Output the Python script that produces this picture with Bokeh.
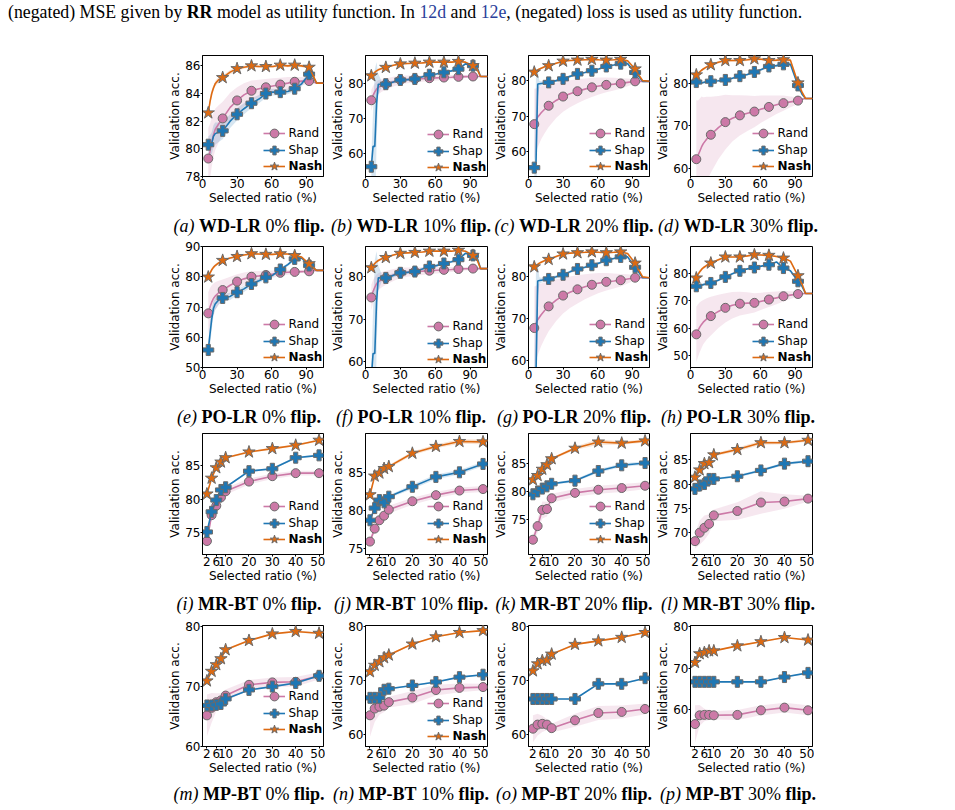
from bokeh.embed import file_html
from bokeh.resources import INLINE
from bokeh.plotting import figure
from bokeh.layouts import column, row
from bokeh.models import Range1d, FixedTicker, Legend, LegendItem, Div, Spacer

# ---------------------------------------------------------------- data
# Logistic-regression panels: dense curve sampled at these ratios (%)
X_LR = [5, 6.5, 8, 9.5, 11, 14, 17.5, 24, 30, 36, 42.5, 49, 55, 61, 67.5, 74, 80, 86, 92.5, 96, 99, 105]
MARK_LR = [5, 17.5, 30, 42.5, 55, 67.5, 80, 92.5]
X_LR_TICKS = [0, 30, 60, 90]

# Boosted-tree panels
X_BT = [2, 4, 6, 8, 10, 20, 30, 40, 50]
X_BT_TICKS = [2, 6, 10, 20, 30, 40, 50]

# WD-LR 0% flip
WD0_RAND = [79.3, 79.8, 80.5, 81.0, 81.4, 81.8, 82.2, 83.0, 83.5, 83.9, 84.2, 84.35, 84.45, 84.55, 84.65, 84.75, 84.85, 84.9, 84.9, 84.85, 84.75, 84.75]
WD0_RAND_SD = [2.2, 2.0, 1.8, 1.6, 1.5, 1.35, 1.2, 1.05, 0.95, 0.85, 0.75, 0.65, 0.6, 0.55, 0.5, 0.45, 0.35, 0.3, 0.2, 0.1, 0.0, 0.0]
WD0_SHAP = [80.3, 80.3, 80.4, 80.9, 81.1, 81.2, 81.3, 82.0, 82.5, 82.9, 83.3, 83.6, 84.0, 84.1, 84.1, 84.15, 84.35, 84.7, 85.4, 85.2, 84.75, 84.75]
WD0_SHAP_SD = [0.6, 0.7, 0.8, 0.8, 0.8, 0.7, 0.6, 0.5, 0.45, 0.4, 0.35, 0.3, 0.3, 0.25, 0.2, 0.2, 0.2, 0.2, 0.15, 0.1, 0.0, 0.0]
WD0_NASH = [82.6, 83.4, 84.0, 84.4, 84.7, 85.0, 85.15, 85.55, 85.8, 85.9, 86.0, 85.95, 85.95, 85.95, 86.05, 86.0, 86.05, 86.0, 85.9, 85.3, 84.75, 84.75]
WD0_NASH_SD = [0.3, 0.3, 0.25, 0.2, 0.2, 0.2, 0.15, 0.15, 0.15, 0.1, 0.1, 0.1, 0.1, 0.1, 0.1, 0.1, 0.1, 0.1, 0.1, 0.1, 0.0, 0.0]

# WD-LR 10% flip
WD10_RAND = [75.1, 76.5, 77.5, 78.3, 78.8, 79.3, 79.7, 80.4, 80.9, 81.05, 81.2, 81.3, 81.4, 81.5, 81.6, 81.7, 81.8, 81.85, 81.9, 81.9, 81.9, 81.9]
WD10_RAND_SD = [3.0, 2.7, 2.4, 2.2, 2.0, 1.8, 1.6, 1.4, 1.2, 1.1, 1.0, 0.9, 0.8, 0.75, 0.7, 0.6, 0.5, 0.4, 0.3, 0.15, 0.0, 0.0]
WD10_SHAP = [56.1, 61.9, 61.9, 74.0, 79.7, 79.7, 79.7, 80.3, 80.9, 81.0, 81.2, 81.8, 82.4, 82.6, 83.1, 83.5, 84.0, 85.5, 85.0, 84.6, 81.9, 81.9]
WD10_SHAP_SD = [3.0, 10.0, 22.0, 12.0, 3.0, 0.8, 0.6, 0.5, 0.4, 0.4, 0.35, 0.35, 0.3, 0.3, 0.3, 0.3, 0.3, 0.3, 0.3, 0.2, 0.0, 0.0]
WD10_NASH = [82.1, 82.6, 83.1, 83.5, 83.8, 84.2, 84.5, 85.1, 85.5, 85.6, 85.7, 85.8, 86.0, 86.0, 86.0, 86.0, 86.2, 86.0, 85.0, 84.0, 81.9, 81.9]
WD10_NASH_SD = [0.4, 0.4, 0.35, 0.3, 0.3, 0.3, 0.3, 0.25, 0.25, 0.2, 0.2, 0.2, 0.2, 0.2, 0.2, 0.2, 0.2, 0.2, 0.2, 0.15, 0.0, 0.0]

# WD-LR 20% flip
WD20_RAND = [67.7, 68.8, 69.7, 70.3, 70.9, 71.9, 72.9, 74.4, 75.5, 76.3, 77.0, 77.6, 78.1, 78.5, 78.8, 79.0, 79.2, 79.5, 79.8, 79.8, 79.8, 79.8]
WD20_RAND_SD = [10.0, 9.0, 8.5, 8.0, 7.5, 6.8, 6.0, 5.0, 4.3, 3.8, 3.4, 3.0, 2.7, 2.4, 2.1, 1.8, 1.5, 1.1, 0.6, 0.3, 0.0, 0.0]
WD20_SHAP = [55.4, 56.5, 79.0, 79.1, 79.2, 79.3, 79.5, 80.0, 80.5, 81.2, 81.9, 82.3, 82.8, 83.3, 84.0, 84.4, 84.8, 84.8, 82.3, 81.0, 79.8, 79.8]
WD20_SHAP_SD = [2.0, 25.0, 4.0, 0.8, 0.6, 0.5, 0.4, 0.4, 0.4, 0.35, 0.35, 0.3, 0.3, 0.3, 0.3, 0.3, 0.3, 0.3, 0.3, 0.2, 0.0, 0.0]
WD20_NASH = [82.4, 82.7, 83.0, 83.3, 83.5, 83.9, 84.2, 84.9, 85.5, 85.7, 85.8, 85.9, 86.0, 85.9, 85.8, 85.9, 86.0, 85.6, 83.3, 81.5, 80.0, 79.8]
WD20_NASH_SD = [0.4, 0.4, 0.35, 0.3, 0.3, 0.3, 0.3, 0.25, 0.25, 0.2, 0.2, 0.2, 0.2, 0.2, 0.2, 0.2, 0.2, 0.2, 0.2, 0.15, 0.0, 0.0]

# WD-LR 30% flip
WD30_RAND = [62.1, 63.0, 64.0, 65.0, 65.8, 66.9, 67.9, 69.6, 70.9, 71.8, 72.5, 73.0, 73.4, 74.0, 74.5, 75.0, 75.4, 75.7, 76.0, 76.3, 76.5, 76.5]
WD30_RAND_SD = [14.0, 13.0, 12.5, 12.0, 11.0, 10.0, 9.0, 7.5, 6.5, 5.5, 4.8, 4.2, 3.7, 3.2, 2.7, 2.2, 1.8, 1.3, 0.8, 0.4, 0.0, 0.0]
WD30_SHAP = [80.4, 80.0, 80.1, 80.2, 80.3, 80.5, 80.6, 80.7, 80.9, 81.3, 81.8, 82.2, 82.8, 83.4, 84.1, 84.3, 84.6, 84.6, 79.6, 77.5, 76.5, 76.5]
WD30_SHAP_SD = [0.4, 0.4, 0.35, 0.3, 0.3, 0.3, 0.3, 0.3, 0.3, 0.3, 0.3, 0.3, 0.3, 0.3, 0.3, 0.3, 0.3, 0.3, 0.4, 0.3, 0.0, 0.0]
WD30_NASH = [82.1, 82.4, 82.8, 83.2, 83.5, 84.0, 84.5, 85.1, 85.5, 85.5, 85.5, 85.7, 85.9, 85.8, 85.5, 85.6, 85.7, 85.6, 80.2, 78.0, 76.5, 76.5]
WD30_NASH_SD = [0.4, 0.4, 0.35, 0.3, 0.3, 0.3, 0.3, 0.3, 0.3, 0.3, 0.3, 0.3, 0.3, 0.3, 0.3, 0.3, 0.3, 0.3, 0.4, 0.3, 0.0, 0.0]

# PO-LR 0% flip
PO0_RAND = [67.9, 70.0, 71.6, 72.8, 73.6, 74.7, 75.6, 77.2, 78.4, 79.3, 80.0, 80.3, 80.6, 80.9, 81.3, 81.5, 81.6, 81.7, 81.8, 82.0, 82.1, 82.1]
PO0_RAND_SD = [7.0, 6.3, 5.6, 5.0, 4.6, 4.0, 3.5, 2.8, 2.4, 2.1, 1.8, 1.6, 1.4, 1.2, 1.0, 0.8, 0.6, 0.4, 0.3, 0.15, 0.0, 0.0]
PO0_SHAP = [55.8, 61.0, 66.0, 69.5, 71.0, 72.3, 73.0, 73.5, 74.9, 76.0, 77.6, 78.7, 79.8, 80.5, 82.4, 84.0, 85.9, 86.2, 83.7, 83.0, 82.1, 82.1]
PO0_SHAP_SD = [3.0, 4.0, 3.5, 2.5, 2.0, 1.5, 1.2, 1.2, 1.0, 1.0, 0.9, 0.8, 0.7, 0.6, 0.6, 0.5, 0.5, 0.5, 0.4, 0.3, 0.0, 0.0]
PO0_NASH = [79.9, 81.2, 82.3, 83.1, 83.7, 84.6, 85.4, 86.2, 86.7, 87.2, 87.6, 87.5, 87.4, 87.4, 87.6, 87.5, 87.0, 86.5, 84.3, 83.0, 82.1, 82.1]
PO0_NASH_SD = [0.8, 0.7, 0.6, 0.5, 0.5, 0.4, 0.4, 0.3, 0.3, 0.3, 0.3, 0.3, 0.3, 0.3, 0.3, 0.3, 0.3, 0.3, 0.3, 0.2, 0.0, 0.0]

# PO-LR 10% and 20% flip repeat the WD-LR curves
PO10_RAND, PO10_RAND_SD = WD10_RAND, WD10_RAND_SD
PO10_SHAP, PO10_SHAP_SD = WD10_SHAP, WD10_SHAP_SD
PO10_NASH, PO10_NASH_SD = WD10_NASH, WD10_NASH_SD
PO20_RAND, PO20_RAND_SD = WD20_RAND, WD20_RAND_SD
PO20_SHAP, PO20_SHAP_SD = WD20_SHAP, WD20_SHAP_SD
PO20_NASH, PO20_NASH_SD = WD20_NASH, WD20_NASH_SD

# PO-LR 30% flip
PO30_RAND = [57.8, 59.2, 60.4, 61.4, 62.2, 63.4, 64.4, 66.1, 67.4, 68.3, 68.9, 69.1, 69.2, 69.8, 70.4, 71.0, 71.6, 72.0, 72.4, 72.5, 72.6, 72.6]
PO30_RAND_SD = [10.0, 9.5, 9.0, 8.5, 8.0, 7.5, 7.0, 6.0, 5.3, 4.8, 4.3, 3.9, 3.5, 3.1, 2.7, 2.3, 1.9, 1.4, 0.9, 0.5, 0.0, 0.0]
PO30_SHAP = [75.2, 75.3, 75.5, 75.6, 75.8, 76.1, 76.4, 77.4, 78.6, 79.7, 80.8, 81.5, 82.0, 82.5, 83.0, 84.0, 81.8, 80.8, 77.0, 75.2, 72.6, 72.6]
PO30_SHAP_SD = [0.6, 0.6, 0.5, 0.5, 0.5, 0.4, 0.4, 0.4, 0.3, 0.3, 0.3, 0.3, 0.3, 0.3, 0.3, 0.3, 0.3, 0.3, 0.3, 0.2, 0.0, 0.0]
PO30_NASH = [78.2, 79.5, 80.5, 81.3, 81.9, 82.8, 83.6, 84.8, 85.8, 85.8, 85.8, 86.2, 86.6, 86.5, 86.4, 86.0, 85.4, 84.3, 79.0, 76.0, 72.6, 72.6]
PO30_NASH_SD = [0.9, 0.8, 0.7, 0.6, 0.5, 0.5, 0.4, 0.4, 0.4, 0.3, 0.3, 0.3, 0.3, 0.3, 0.3, 0.3, 0.3, 0.3, 0.3, 0.2, 0.0, 0.0]

# MR-BT
MR0_RAND = [73.75, 77.6, 79.0, 80.25, 81.15, 82.6, 83.4, 83.85, 83.85]
MR0_RAND_SD = [0.4, 0.5, 0.5, 0.5, 0.5, 0.45, 0.4, 0.35, 0.35]
MR0_SHAP = [75.1, 78.1, 79.85, 81.35, 81.75, 84.15, 84.5, 86.15, 86.5]
MR0_SHAP_SD = [0.15, 0.15, 0.15, 0.15, 0.15, 0.15, 0.15, 0.15, 0.15]
MR0_NASH = [80.75, 83.1, 84.65, 85.5, 86.15, 87.0, 87.5, 88.0, 88.75]
MR0_NASH_SD = [0.15, 0.15, 0.15, 0.15, 0.15, 0.15, 0.15, 0.15, 0.15]

MR10_RAND = [75.9, 77.6, 78.7, 79.3, 80.1, 81.2, 82.0, 82.6, 82.8]
MR10_RAND_SD = [0.4, 0.5, 0.5, 0.5, 0.5, 0.45, 0.4, 0.4, 0.4]
MR10_SHAP = [78.7, 80.3, 81.35, 81.05, 81.8, 83.1, 84.4, 85.0, 86.1]
MR10_SHAP_SD = [0.2, 0.2, 0.2, 0.2, 0.2, 0.3, 0.3, 0.3, 0.3]
MR10_NASH = [82.05, 84.5, 84.9, 85.5, 85.75, 87.5, 88.4, 89.05, 89.0]
MR10_NASH_SD = [0.2, 0.2, 0.2, 0.2, 0.2, 0.25, 0.25, 0.3, 0.3]

MR20_RAND = [71.5, 73.9, 76.75, 76.9, 78.8, 79.75, 80.3, 80.6, 81.0]
MR20_RAND_SD = [0.8, 1.2, 1.5, 1.3, 0.8, 0.7, 0.7, 0.7, 0.6]
MR20_SHAP = [79.5, 80.0, 80.5, 80.9, 81.35, 81.9, 83.6, 84.6, 85.0]
MR20_SHAP_SD = [0.2, 0.2, 0.2, 0.2, 0.2, 0.25, 0.3, 0.3, 0.3]
MR20_NASH = [82.05, 82.8, 83.9, 84.7, 85.75, 87.6, 88.7, 88.5, 88.9]
MR20_NASH_SD = [0.2, 0.2, 0.2, 0.2, 0.2, 0.3, 0.5, 0.3, 0.3]

MR30_RAND = [68.25, 70.0, 71.0, 71.8, 73.55, 74.45, 76.2, 76.4, 77.0]
MR30_RAND_SD = [1.5, 2.5, 2.5, 2.0, 1.2, 1.8, 2.3, 1.5, 0.6]
MR30_SHAP = [79.0, 79.7, 80.0, 81.05, 81.05, 81.6, 82.8, 84.2, 84.7]
MR30_SHAP_SD = [0.2, 0.2, 0.2, 0.2, 0.2, 0.25, 0.3, 0.3, 0.3]
MR30_NASH = [81.4, 82.9, 84.2, 84.4, 86.0, 87.1, 88.5, 88.5, 89.0]
MR30_NASH_SD = [0.3, 0.3, 0.3, 0.3, 0.3, 0.4, 0.4, 0.3, 0.3]

# MP-BT
MP0_RAND = [65.2, 66.45, 67.4, 67.7, 68.5, 70.3, 70.7, 70.8, 71.8]
MP0_RAND_SD = [3.5, 2.5, 1.5, 1.2, 1.0, 0.8, 0.8, 0.8, 0.6]
MP0_SHAP = [66.85, 66.85, 66.95, 67.1, 67.95, 69.45, 70.0, 70.6, 71.8]
MP0_SHAP_SD = [0.15, 0.15, 0.15, 0.15, 0.15, 0.15, 0.15, 0.15, 0.15]
MP0_NASH = [70.95, 72.55, 73.65, 74.65, 76.15, 77.7, 78.8, 79.2, 78.9]
MP0_NASH_SD = [0.15, 0.15, 0.15, 0.15, 0.15, 0.15, 0.15, 0.15, 0.15]

MP10_RAND = [63.5, 64.75, 65.1, 65.3, 65.95, 66.8, 68.2, 68.6, 68.75]
MP10_RAND_SD = [4.0, 2.5, 1.5, 1.2, 1.0, 1.2, 1.0, 0.8, 0.6]
MP10_SHAP = [66.75, 66.75, 66.75, 68.25, 68.45, 69.05, 69.7, 70.6, 71.05]
MP10_SHAP_SD = [0.15, 0.15, 0.15, 0.15, 0.15, 0.15, 0.15, 0.15, 0.15]
MP10_NASH = [71.6, 72.8, 73.45, 74.2, 74.7, 76.75, 78.1, 78.9, 79.25]
MP10_NASH_SD = [0.15, 0.15, 0.15, 0.15, 0.15, 0.15, 0.15, 0.15, 0.15]

MP20_RAND = [61.1, 61.85, 62.0, 61.85, 61.2, 62.65, 64.0, 64.2, 64.75]
MP20_RAND_SD = [2.5, 2.0, 1.5, 1.0, 0.8, 1.2, 1.3, 1.2, 1.0]
MP20_SHAP = [66.6, 66.6, 66.6, 66.6, 66.6, 66.6, 69.4, 69.4, 70.45]
MP20_SHAP_SD = [0.15, 0.15, 0.15, 0.15, 0.15, 0.15, 0.15, 0.15, 0.15]
MP20_NASH = [71.8, 73.1, 73.7, 73.8, 74.9, 76.7, 77.35, 78.0, 78.9]
MP20_NASH_SD = [0.15, 0.15, 0.15, 0.15, 0.15, 0.15, 0.15, 0.15, 0.15]

MP30_RAND = [56.6, 58.7, 58.8, 58.8, 58.7, 58.8, 59.9, 60.55, 59.9]
MP30_RAND_SD = [4.5, 2.5, 1.5, 1.2, 1.0, 1.2, 1.2, 1.2, 1.2]
MP30_SHAP = [66.75, 66.75, 66.75, 66.75, 66.75, 66.75, 66.75, 67.9, 68.9]
MP30_SHAP_SD = [0.15, 0.15, 0.15, 0.15, 0.15, 0.15, 0.15, 0.15, 0.15]
MP30_NASH = [71.4, 73.5, 73.8, 74.2, 74.2, 75.4, 76.4, 77.4, 76.8]
MP30_NASH_SD = [0.15, 0.15, 0.15, 0.15, 0.15, 0.15, 0.15, 0.15, 0.15]

# value ranges and y ticks of each panel, (a) .. (p)
Y_RANGES = [(78, 86.75), (53.3, 87.9), (52.9, 87.1), (58, 86.7),
            (50, 90), (58.6, 87.1), (58.2, 87.3), (45.8, 89.6),
            (71.75, 89.75), (74.2, 90.1), (68.9, 90.2), (65.5, 90.4),
            (60, 80.2), (57.7, 80.2), (57.8, 80.2), (51.2, 80.3)]
Y_TICKS = [[78, 80, 82, 84, 86], [60, 70, 80], [60, 70, 80], [60, 70, 80],
           [50, 60, 70, 80, 90], [60, 70, 80], [60, 70, 80], [50, 60, 70, 80],
           [75, 80, 85], [75, 80, 85], [75, 80, 85], [70, 75, 80, 85],
           [60, 70, 80], [60, 70, 80], [60, 70, 80], [60, 70, 80]]

PANEL_DATA = [
    (WD0_RAND, WD0_RAND_SD, WD0_SHAP, WD0_SHAP_SD, WD0_NASH, WD0_NASH_SD),
    (WD10_RAND, WD10_RAND_SD, WD10_SHAP, WD10_SHAP_SD, WD10_NASH, WD10_NASH_SD),
    (WD20_RAND, WD20_RAND_SD, WD20_SHAP, WD20_SHAP_SD, WD20_NASH, WD20_NASH_SD),
    (WD30_RAND, WD30_RAND_SD, WD30_SHAP, WD30_SHAP_SD, WD30_NASH, WD30_NASH_SD),
    (PO0_RAND, PO0_RAND_SD, PO0_SHAP, PO0_SHAP_SD, PO0_NASH, PO0_NASH_SD),
    (PO10_RAND, PO10_RAND_SD, PO10_SHAP, PO10_SHAP_SD, PO10_NASH, PO10_NASH_SD),
    (PO20_RAND, PO20_RAND_SD, PO20_SHAP, PO20_SHAP_SD, PO20_NASH, PO20_NASH_SD),
    (PO30_RAND, PO30_RAND_SD, PO30_SHAP, PO30_SHAP_SD, PO30_NASH, PO30_NASH_SD),
    (MR0_RAND, MR0_RAND_SD, MR0_SHAP, MR0_SHAP_SD, MR0_NASH, MR0_NASH_SD),
    (MR10_RAND, MR10_RAND_SD, MR10_SHAP, MR10_SHAP_SD, MR10_NASH, MR10_NASH_SD),
    (MR20_RAND, MR20_RAND_SD, MR20_SHAP, MR20_SHAP_SD, MR20_NASH, MR20_NASH_SD),
    (MR30_RAND, MR30_RAND_SD, MR30_SHAP, MR30_SHAP_SD, MR30_NASH, MR30_NASH_SD),
    (MP0_RAND, MP0_RAND_SD, MP0_SHAP, MP0_SHAP_SD, MP0_NASH, MP0_NASH_SD),
    (MP10_RAND, MP10_RAND_SD, MP10_SHAP, MP10_SHAP_SD, MP10_NASH, MP10_NASH_SD),
    (MP20_RAND, MP20_RAND_SD, MP20_SHAP, MP20_SHAP_SD, MP20_NASH, MP20_NASH_SD),
    (MP30_RAND, MP30_RAND_SD, MP30_SHAP, MP30_SHAP_SD, MP30_NASH, MP30_NASH_SD),
]

SERIES = ["Rand", "Shap", "Nash"]
PANEL_LETTERS = list("abcdefghijklmnop")
PANEL_NAMES = ["WD-LR", "PO-LR", "MR-BT", "MP-BT"]
FLIP_RATES = [0, 10, 20, 30]
# legend height above the frame bottom (None: no legend)
LEGEND_OFFSET = [10, 9, 10, 10, 10, 8, 10, 10, 15, 15, 15, None, 17, 10, None, None]
LEGEND_PITCH = 16.5

# ---------------------------------------------------------------- style
COLORS = {"Rand": "#cc79a7", "Shap": "#1f77b4", "Nash": "#dd6a12"}
MARKERS = {"Rand": ("circle", 9), "Shap": ("plus", 11), "Nash": ("star", 13)}
EDGE = "#6a6a6a"
TICK_FONT = "DejaVu Sans"
FONT_PX = "12px"
SERIF = "'Liberation Serif', 'Times New Roman', serif"

COL_WIDTHS = [163, 163, 162, 164]
FRAME_W = [121, 122, 121, 122]
LEFT_PAD = 162
FIG_H = 160


def style_axes(p):
    for ax in (p.xaxis[0], p.yaxis[0]):
        ax.axis_line_color = "black"
        ax.axis_line_width = 1
        ax.major_tick_line_color = "black"
        ax.major_tick_out = 2
        ax.major_tick_in = 0
        ax.minor_tick_line_color = None
        ax.major_label_text_font = TICK_FONT
        ax.major_label_text_font_size = FONT_PX
        ax.major_label_text_color = "black"
        ax.major_label_standoff = 0
        ax.axis_label_text_font = TICK_FONT
        ax.axis_label_text_font_size = FONT_PX
        ax.axis_label_text_font_style = "normal"
        ax.axis_label_text_color = "black"
        ax.axis_label_standoff = 0


def make_panel(k):
    col = k % 4
    lr = k < 8
    xs = X_LR if lr else X_BT
    xr = (0, 105) if lr else (0.1, 51.9)
    fw = FRAME_W[col]
    w = COL_WIDTHS[col]
    p = figure(width=w, height=FIG_H, x_range=Range1d(*xr), y_range=Range1d(*Y_RANGES[k]),
               output_backend="svg", toolbar_location=None,
               min_border_left=40, min_border_right=w - 40 - fw,
               min_border_top=5, min_border_bottom=34)
    p.grid.visible = False
    p.outline_line_color = "black"
    p.outline_line_width = 1
    p.outline_line_alpha = 1
    p.background_fill_color = "white"
    p.border_fill_color = "white"
    p.xaxis.ticker = FixedTicker(ticks=X_LR_TICKS if lr else X_BT_TICKS)
    p.yaxis.ticker = FixedTicker(ticks=Y_TICKS[k])
    p.xaxis.axis_label = "Selected ratio (%)"
    p.yaxis.axis_label = "Validation acc."
    style_axes(p)

    vals = PANEL_DATA[k]
    # shaded spread first, then curves and markers on top
    for i, name in enumerate(SERIES):
        y, sd = vals[2 * i], vals[2 * i + 1]
        p.varea(x=xs, y1=[a - b for a, b in zip(y, sd)], y2=[a + b for a, b in zip(y, sd)],
                fill_color=COLORS[name], fill_alpha=0.18)
    handles = {}
    for i, name in enumerate(SERIES):
        y = vals[2 * i]
        ln = p.line(xs, y, line_color=COLORS[name], line_width=1.6)
        if lr:
            mx = [x for x in xs if x in MARK_LR]
            my = [v for x, v in zip(xs, y) if x in MARK_LR]
        else:
            mx, my = xs, y
        mk, sz = MARKERS[name]
        sc = p.scatter(mx, my, marker=mk, size=sz, fill_color=COLORS[name],
                       line_color=EDGE, line_width=1)
        handles[name] = (ln, sc)

    off = LEGEND_OFFSET[k]
    if off is not None:
        # one single-entry legend per series so that the rows sit close together
        for j, name in enumerate(SERIES):
            leg = Legend(items=[LegendItem(label=name, renderers=list(handles[name]))],
                         location=(fw - 60.5, off + (2 - j) * LEGEND_PITCH - 11),
                         glyph_width=22, glyph_height=22, label_height=14, label_standoff=4,
                         padding=0, margin=0, spacing=0, border_line_alpha=0,
                         background_fill_alpha=0, label_text_font=TICK_FONT,
                         label_text_font_size=FONT_PX, label_text_color="black",
                         label_text_font_style="bold" if name == "Nash" else "normal")
            p.add_layout(leg)
    return p


CAP_X = [249, 411, 574, 738]
CAP_BOX_H = [31, 27, 32, 30]
CAP_TOP = [7, 7, 7, 5]


def caption_row(r):
    spans = []
    for c in range(4):
        k = r * 4 + c
        spans.append(
            f'<span style="position:absolute;left:{CAP_X[c]}px;top:{CAP_TOP[r]}px;'
            f'transform:translateX(-50%);white-space:nowrap;line-height:18px;">'
            f'<i>({PANEL_LETTERS[k]})</i> <b>{PANEL_NAMES[r]}</b> {FLIP_RATES[c]}% <b>flip.</b></span>')
    html = (f'<div style="position:relative;width:955px;height:{CAP_BOX_H[r]}px;'
            f'font-family:{SERIF};font-size:18px;color:black;">' + "".join(spans) + "</div>")
    return Div(text=html, width=955, height=CAP_BOX_H[r], margin=0)


top_html = (f'<div style="position:relative;width:955px;height:50px;font-family:{SERIF};'
            f'font-size:17.8px;color:black;">'
            '<span style="position:absolute;left:8px;top:3px;white-space:nowrap;line-height:18px;">'
            '(negated) MSE given by <b>RR</b> model as utility function. In '
            '<span style="color:#2b3f9a">12d</span> and <span style="color:#2b3f9a">12e</span>, '
            '(negated) loss is used as utility function.</span></div>')
top = Div(text=top_html, width=955, height=50, margin=0)

blocks = [top]
for r in range(4):
    figs = [make_panel(r * 4 + c) for c in range(4)]
    blocks.append(row(Spacer(width=LEFT_PAD, height=FIG_H, margin=0), *figs, spacing=0, margin=0))
    blocks.append(caption_row(r))

layout = column(*blocks, spacing=0, margin=0)

with open("out.html", "w") as f:
    f.write(file_html(layout, INLINE))
